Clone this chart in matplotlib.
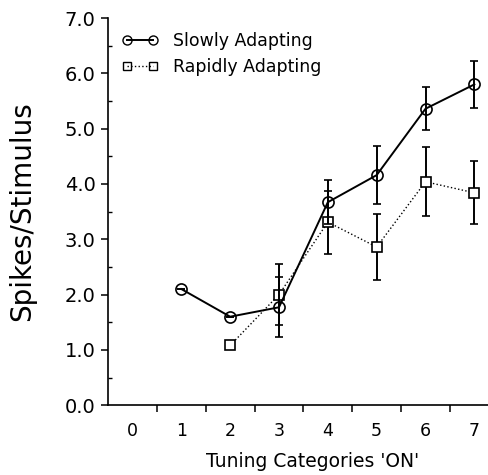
import matplotlib
matplotlib.use("Agg")
import matplotlib.pyplot as plt
from matplotlib.ticker import MultipleLocator
from matplotlib.lines import Line2D

# ── Data ───────────────────────────────────────────────────────────────────────
slow_x   = [1, 2, 3, 4, 5, 6, 7]
slow_y   = [2.10, 1.60, 1.77, 3.67, 4.16, 5.36, 5.80]
slow_err = [0.0, 0.0, 0.54, 0.40, 0.52, 0.39, 0.43]

rapid_x   = [2, 3, 4, 5, 6, 7]
rapid_y   = [1.08, 2.00, 3.31, 2.86, 4.04, 3.84]
rapid_err = [0.0, 0.55, 0.57, 0.59, 0.62, 0.57]

x_labels = ["0", "1", "2", "3", "4", "5", "6", "7"]

fig = plt.figure(figsize=(4.89, 4.75), dpi=100)
ax = fig.add_axes([0.221, 0.147, 0.779, 0.815])

ax.errorbar(rapid_x, rapid_y, yerr=rapid_err, color="black", linestyle=":",
            linewidth=1.0, marker="s", markersize=7, markerfacecolor="white",
            markeredgewidth=1.2, capsize=3, elinewidth=1.4, capthick=1.4,
            zorder=3)
ax.errorbar(slow_x, slow_y, yerr=slow_err, color="black", linestyle="-",
            linewidth=1.4, marker="o", markersize=8, markerfacecolor="none",
            markeredgewidth=1.2, capsize=3, elinewidth=1.4, capthick=1.4,
            zorder=4)

ax.set_xlim(-0.5, 7.3)
ax.set_ylim(0, 7.0)
ax.spines["top"].set_visible(False)
ax.spines["right"].set_visible(False)
for s in ("left", "bottom"):
    ax.spines[s].set_linewidth(1.2)

# x: labels at integers without ticks, ticks at half positions
ax.set_xticks(range(len(x_labels)))
ax.set_xticklabels(x_labels)
ax.tick_params(axis="x", which="major", length=0, pad=12, labelsize=12.5)
ax.set_xticks([i + 0.5 for i in range(7)], minor=True)
ax.tick_params(axis="x", which="minor", direction="out", length=5, width=1.1)

ax.yaxis.set_major_locator(MultipleLocator(1.0))
ax.yaxis.set_major_formatter(plt.FuncFormatter(lambda v, p: f"{v:.1f}"))
ax.yaxis.set_minor_locator(MultipleLocator(0.5))
ax.tick_params(axis="y", which="major", direction="out", length=5, width=1.1,
               labelsize=14, pad=4)
ax.tick_params(axis="y", which="minor", direction="in", length=3, width=1.0)

ax.set_ylabel("Spikes/Stimulus", fontsize=20)
ax.yaxis.set_label_coords(-0.19, 0.5)
ax.set_xlabel("Tuning Categories 'ON'", fontsize=13.5)
ax.xaxis.set_label_coords(0.538, -0.12)

handles = [
    Line2D([], [], color="black", linestyle="-", linewidth=1.4, marker="o",
           markersize=6.5, markerfacecolor="none"),
    Line2D([], [], color="black", linestyle=":", linewidth=1.0, marker="s",
           markersize=5.5, markerfacecolor="none"),
]
ax.legend(handles, ["Slowly Adapting", "Rapidly Adapting"], loc="upper left",
          frameon=False, fontsize=12.5, handlelength=2.1, handletextpad=0.84,
          numpoints=2, borderaxespad=0, labelspacing=0.45,
          bbox_to_anchor=(0.018, 0.982))

fig.savefig("out.png", dpi=100)
